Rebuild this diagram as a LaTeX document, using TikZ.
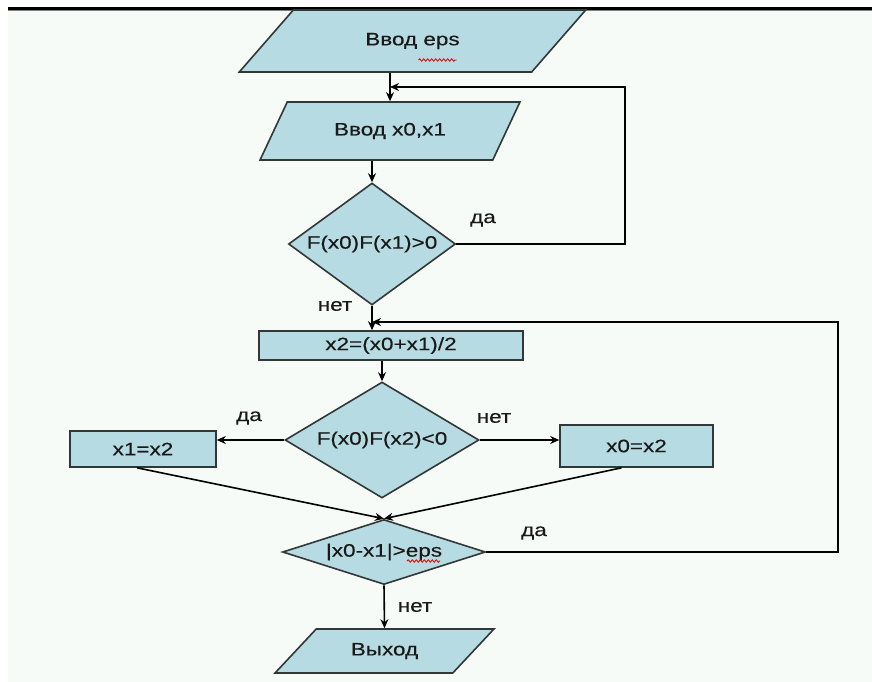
\documentclass[tikz,border=0pt]{standalone}
\usepackage{fontspec}
\setmainfont[FakeStretch=1.25,FakeBold=0.35]{Liberation Sans}
\usetikzlibrary{shapes.geometric,arrows.meta,calc,decorations.pathmorphing}
\definecolor{bg}{RGB}{246,251,248}
\definecolor{boxfill}{RGB}{183,219,226}
\definecolor{boxline}{RGB}{50,55,55}
\definecolor{txt}{RGB}{25,25,25}
\begin{document}
\begin{tikzpicture}[x=1pt,y=-1pt,
  font=\fontsize{18}{20}\selectfont,
  shapebox/.style={draw=boxline, fill=boxfill, line width=1.6pt, inner sep=0pt, text=txt},
  proc/.style={shapebox, rectangle},
  io/.style={shapebox, trapezium, trapezium stretches=true},
  decide/.style={shapebox, diamond},
  flow/.style={draw=black, line width=1.6pt, -{Stealth[length=9pt,width=8pt]}},
  spell/.style={draw=red!85!black, line width=0.8pt, decorate, decoration={snake, amplitude=1.2pt, segment length=4pt}},
  lbl/.style={inner sep=0pt, text=txt}]
% background
\useasboundingbox (0,0) rectangle (872,682);
\fill[white] (0,0) rectangle (872,682);
\fill[bg] (8,10) rectangle (872,682);
\draw[black, line width=3pt] (8,8.5) -- (872,8.5);
\draw[gray, line width=1pt] (8,10.5) -- (872,10.5);

% nodes
\node[io, trapezium left angle=37, trapezium right angle=143,
      minimum width=347, minimum height=62] (eps) at (412.5,41) {Ввод eps};
\node[io, trapezium left angle=47.5, trapezium right angle=132.5,
      minimum width=260, minimum height=58] (x01) at (390,131) {Ввод x0,x1};
\node[decide, minimum width=167, minimum height=122, shape aspect=1.37] (d1) at (372,244) {F(x0)F(x1)>0};
\node[proc, minimum width=264, minimum height=29] (r1) at (391,345.5) {x2=(x0+x1)/2};
\node[decide, minimum width=194, minimum height=116, shape aspect=1.67] (d2) at (382,440) {F(x0)F(x2)<0};
\node[proc, minimum width=146, minimum height=36] (r2) at (143,449) {x1=x2};
\node[proc, minimum width=153, minimum height=42] (r3) at (636.5,446) {x0=x2};
\node[decide, minimum width=203, minimum height=65, shape aspect=3.1] (d3) at (384,552) {|x0-x1|>eps};
\node[io, trapezium left angle=38.2, trapezium right angle=141.8,
      minimum width=219, minimum height=44] (out) at (384.5,651) {Выход};

% spell-check underlines
\draw[spell] ($(eps.center)+(6,19)$) -- ++(38,0);
\draw[spell] ($(d3.center)+(23,9)$) -- ++(33,0);

\coordinate (fb1) at (625,87);
\coordinate (fb2) at (838,322);

% connectors
\draw[flow] (eps.south -| x01.north) -- (x01.north);
\draw[flow] (x01.south -| d1.north) -- (d1.north);
\draw[flow] (d1.east) -- (d1.east -| fb1) -- (fb1) -- (fb1 -| x01.north);
\draw[flow] (d1.south) -- (d1.south |- r1.north);
\draw[flow] (d3.east) -- (d3.east -| fb2) -- (fb2) -- (fb2 -| d1.south);
\draw[flow] (r1.south -| d2.north) -- (d2.north);
\draw[flow] (d2.west) -- (d2.west -| r2.east);
\draw[flow] (d2.east) -- (d2.east -| r3.west);
\draw[flow] ([xshift=-6pt]r2.south) -- (d3.north);
\draw[flow] ([xshift=-15pt]r3.south) -- (d3.north);
\draw[flow] (d3.south) -- (out.north);

% labels
\node[lbl] (l1) at (483,220) {да};
\node[lbl] (l2) at (335,306) {нет};
\node[lbl] (l3) at (249,418) {да};
\node[lbl] (l4) at (494,418) {нет};
\node[lbl] (l5) at (534,533) {да};
\node[lbl] (l6) at (415,607) {нет};
\end{tikzpicture}
\end{document}
